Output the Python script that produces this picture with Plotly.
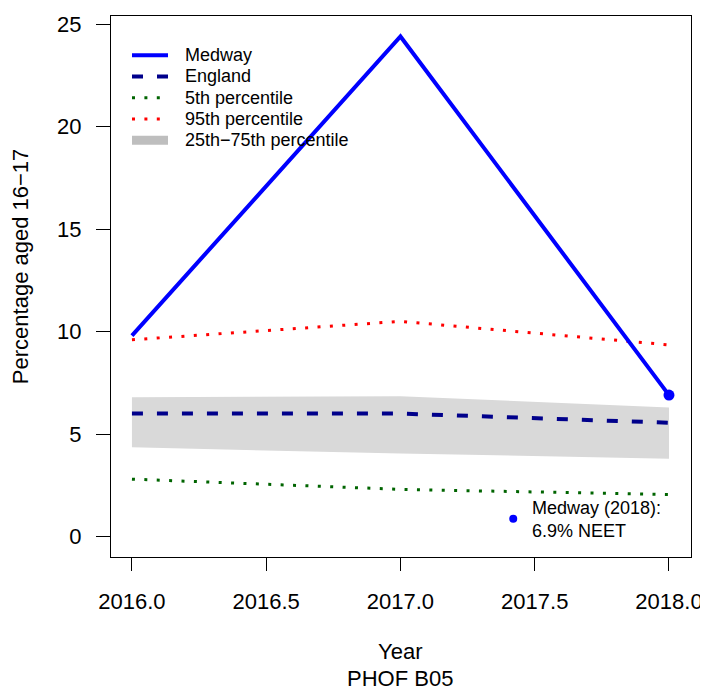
import plotly.graph_objects as go

years = [2016, 2017, 2018]
medway = [9.8, 24.4, 6.9]
england = [6.0, 6.0, 5.55]
p5 = [2.8, 2.3, 2.05]
p95 = [9.6, 10.5, 9.35]
p25 = [4.35, 4.05, 3.8]
p75 = [6.8, 6.85, 6.3]

x_ticks = [2016.0, 2016.5, 2017.0, 2017.5, 2018.0]
y_ticks = [0, 5, 10, 15, 20, 25]

legend_names = ["Medway", "England", "5th percentile", "95th percentile", "25th\u221275th percentile"]
note_text = "Medway (2018):<br>6.9% NEET"

FONT = "Liberation Sans, Arial, sans-serif"
# the page body has an 8px margin, so the figure is drawn 8px in
OFF = 8
W, H = 708 - OFF, 692 - OFF
L, R, T, B = 111 - OFF, 17, 12 - OFF, 135
PW, PH = W - L - R, H - T - B


def px_x(px):
    return (px - OFF - L) / PW


def px_y(py):
    return (H - B - (py - OFF)) / PH


DOT = "3px,9.4px"
DASH = "11px,14px"
styles = [
    dict(color="#0000ff", width=4, dash="solid"),
    dict(color="#00008b", width=4, dash=DASH),
    dict(color="#006400", width=3, dash=DOT),
    dict(color="#ff0000", width=3, dash=DOT),
    dict(color="#bebebe", width=9, dash="solid"),
]

fig = go.Figure()

# 25th-75th band
fig.add_trace(go.Scatter(
    x=years + years[::-1], y=p75 + p25[::-1],
    fill="toself", fillcolor="#d9d9d9", line=dict(width=0),
    mode="lines", hoverinfo="skip", showlegend=False,
))
fig.add_trace(go.Scatter(x=years, y=p5, mode="lines", line=styles[2], showlegend=False))
fig.add_trace(go.Scatter(x=years, y=p95, mode="lines", line=styles[3], showlegend=False))
fig.add_trace(go.Scatter(x=years, y=england, mode="lines", line=styles[1], showlegend=False))
fig.add_trace(go.Scatter(x=years, y=medway, mode="lines", line=styles[0], showlegend=False))
fig.add_trace(go.Scatter(
    x=years[-1:], y=medway[-1:], mode="markers",
    marker=dict(color="#0000ff", size=11), showlegend=False,
))

# note point
NOTE_X, NOTE_Y = 2017.42, 0.87
fig.add_trace(go.Scatter(
    x=[NOTE_X], y=[NOTE_Y], mode="markers",
    marker=dict(color="#0000ff", size=8), showlegend=False,
))
fig.add_annotation(
    x=2017.483, y=0.82, xref="x", yref="y", text=note_text,
    showarrow=False, xanchor="left", yanchor="middle", align="left",
    font=dict(size=18, color="black", family=FONT),
)

# manual legend, R style
for i, (name, st) in enumerate(zip(legend_names, styles)):
    yy = px_y(51.5 + i * 21.4)
    fig.add_shape(
        type="line", xref="paper", yref="paper",
        x0=px_x(132), x1=px_x(168), y0=yy, y1=yy,
        line=dict(color=st["color"], width=st["width"], dash=st["dash"]),
    )
    fig.add_annotation(
        x=px_x(183), y=yy, xref="paper", yref="paper", text=name,
        showarrow=False, xanchor="left", yanchor="middle",
        font=dict(size=18, color="black", family=FONT),
    )

# axis titles
fig.add_annotation(
    x=px_x(20), y=px_y(265), xref="paper", yref="paper",
    text="Percentage aged 16\u221217", textangle=-90, showarrow=False,
    xanchor="center", yanchor="middle",
    font=dict(size=22, color="black", family=FONT),
)
fig.add_annotation(
    x=px_x(400), y=px_y(652), xref="paper", yref="paper", text="Year",
    showarrow=False, xanchor="center", yanchor="middle",
    font=dict(size=22, color="black", family=FONT),
)
fig.add_annotation(
    x=px_x(400), y=px_y(679), xref="paper", yref="paper", text="PHOF B05",
    showarrow=False, xanchor="center", yanchor="middle",
    font=dict(size=22, color="black", family=FONT),
)

fig.update_layout(
    width=W, height=H,
    margin=dict(l=L, r=R, t=T, b=B, pad=0),
    paper_bgcolor="white", plot_bgcolor="white",
    font=dict(family=FONT, size=22, color="black"),
    showlegend=False,
    xaxis=dict(
        range=[2015.922, 2018.082], tickvals=x_ticks, tickformat=".1f",
        ticks="outside", ticklen=13, tickcolor="black", tickwidth=1,
        showline=True, linecolor="black", linewidth=1, mirror=True,
        showgrid=False, zeroline=False, ticklabelstandoff=12,
        ticklabeloverflow="allow", tickfont=dict(size=22),
    ),
    yaxis=dict(
        range=[-1.0, 25.4], tickvals=y_ticks,
        ticks="outside", ticklen=14, tickcolor="black", tickwidth=1,
        showline=True, linecolor="black", linewidth=1, mirror=True,
        showgrid=False, zeroline=False, ticklabelstandoff=10,
        ticklabeloverflow="allow", tickfont=dict(size=22),
    ),
)

fig.write_html("out.html")
